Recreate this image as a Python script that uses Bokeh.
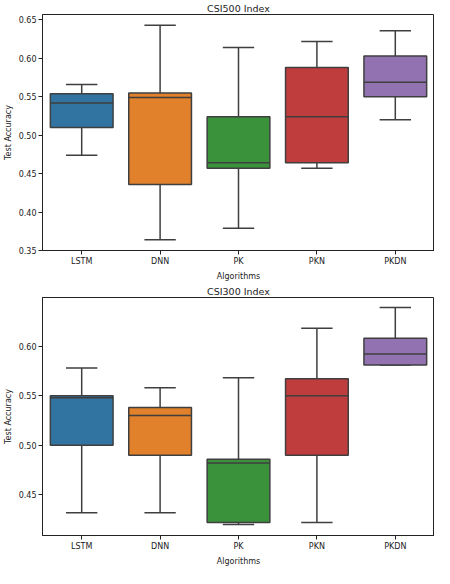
from bokeh.plotting import figure
from bokeh.layouts import column
from bokeh.models import ColumnDataSource, FixedTicker, NumeralTickFormatter, FactorRange, Range1d
from bokeh.embed import file_html
from bokeh.resources import INLINE

algorithms = ["LSTM", "DNN", "PK", "PKN", "PKDN"]
colors = ["#3274a1", "#e1812c", "#3a923a", "#c03d3e", "#9372b2"]

# CSI500: whisker low, Q1, median, Q3, whisker high
csi500_low = [0.474, 0.364, 0.379, 0.457, 0.520]
csi500_q1 = [0.510, 0.436, 0.457, 0.464, 0.550]
csi500_med = [0.542, 0.549, 0.464, 0.524, 0.569]
csi500_q3 = [0.554, 0.555, 0.524, 0.588, 0.603]
csi500_high = [0.566, 0.643, 0.614, 0.622, 0.636]
csi500_ticks = [0.35, 0.40, 0.45, 0.50, 0.55, 0.60, 0.65]

# CSI300
csi300_low = [0.432, 0.432, 0.420, 0.422, 0.581]
csi300_q1 = [0.500, 0.490, 0.422, 0.490, 0.581]
csi300_med = [0.548, 0.530, 0.482, 0.550, 0.592]
csi300_q3 = [0.550, 0.538, 0.486, 0.567, 0.608]
csi300_high = [0.578, 0.558, 0.568, 0.618, 0.639]
csi300_ticks = [0.45, 0.50, 0.55, 0.60]

EDGE = "#3f3f3f"
FONT = "DejaVu Sans"


def box_chart(title, low, q1, med, q3, high, ticks, ymin, ymax, height):
    src = ColumnDataSource(dict(cat=algorithms, low=low, q1=q1, med=med,
                                q3=q3, high=high, color=colors))
    p = figure(x_range=FactorRange(*algorithms, range_padding=0),
               y_range=Range1d(ymin, ymax), width=434, height=height,
               title=title, output_backend="svg", toolbar_location=None,
               min_border_right=0, min_border_top=2, min_border_bottom=0)
    # whiskers
    p.segment("cat", "q3", "cat", "high", source=src, line_color=EDGE, line_width=1.5)
    p.segment("cat", "low", "cat", "q1", source=src, line_color=EDGE, line_width=1.5)
    # caps
    p.vbar(x="cat", top="high", bottom="high", width=0.4, source=src,
           fill_alpha=0, line_color=EDGE, line_width=1.5)
    p.vbar(x="cat", top="low", bottom="low", width=0.4, source=src,
           fill_alpha=0, line_color=EDGE, line_width=1.5)
    # boxes
    p.vbar(x="cat", top="q3", bottom="q1", width=0.8, source=src,
           fill_color="color", line_color=EDGE, line_width=1.5)
    # medians
    p.vbar(x="cat", top="med", bottom="med", width=0.8, source=src,
           fill_alpha=0, line_color=EDGE, line_width=1.5)

    p.title.align = "center"
    p.title.text_font = FONT
    p.title.text_font_style = "normal"
    p.title.text_font_size = "9.5px"
    p.title.text_color = "#222222"
    p.title.standoff = 1

    p.xgrid.grid_line_color = None
    p.ygrid.grid_line_color = None
    p.outline_line_color = "#222222"
    p.outline_line_alpha = 1

    p.yaxis.ticker = FixedTicker(ticks=ticks)
    p.yaxis.formatter = NumeralTickFormatter(format="0.00")
    p.xaxis.axis_label = "Algorithms"
    p.yaxis.axis_label = "Test Accuracy"
    for ax in (p.xaxis, p.yaxis):
        ax.axis_line_color = "#222222"
        ax.major_tick_line_color = "#222222"
        ax.major_tick_out = 4
        ax.major_tick_in = 0
        ax.minor_tick_line_color = None
        ax.major_label_text_font = FONT
        ax.major_label_text_font_size = "8px"
        ax.major_label_text_color = "#222222"
        ax.axis_label_text_font = FONT
        ax.axis_label_text_font_size = "8px"
        ax.axis_label_text_font_style = "normal"
        ax.axis_label_text_color = "#222222"
        ax.axis_label_standoff = 3
        ax.major_label_standoff = 2
    return p


top = box_chart("CSI500 Index", csi500_low, csi500_q1, csi500_med, csi500_q3,
                csi500_high, csi500_ticks, 0.35, 0.657, 283)
bottom = box_chart("CSI300 Index", csi300_low, csi300_q1, csi300_med, csi300_q3,
                   csi300_high, csi300_ticks, 0.409, 0.649, 285)
for fig in (top, bottom):
    fig.min_border_right = 0
    fig.width = 434

layout = column(top, bottom, spacing=0, sizing_mode="fixed", width=434)
open("out.html", "w").write(file_html(layout, INLINE))
